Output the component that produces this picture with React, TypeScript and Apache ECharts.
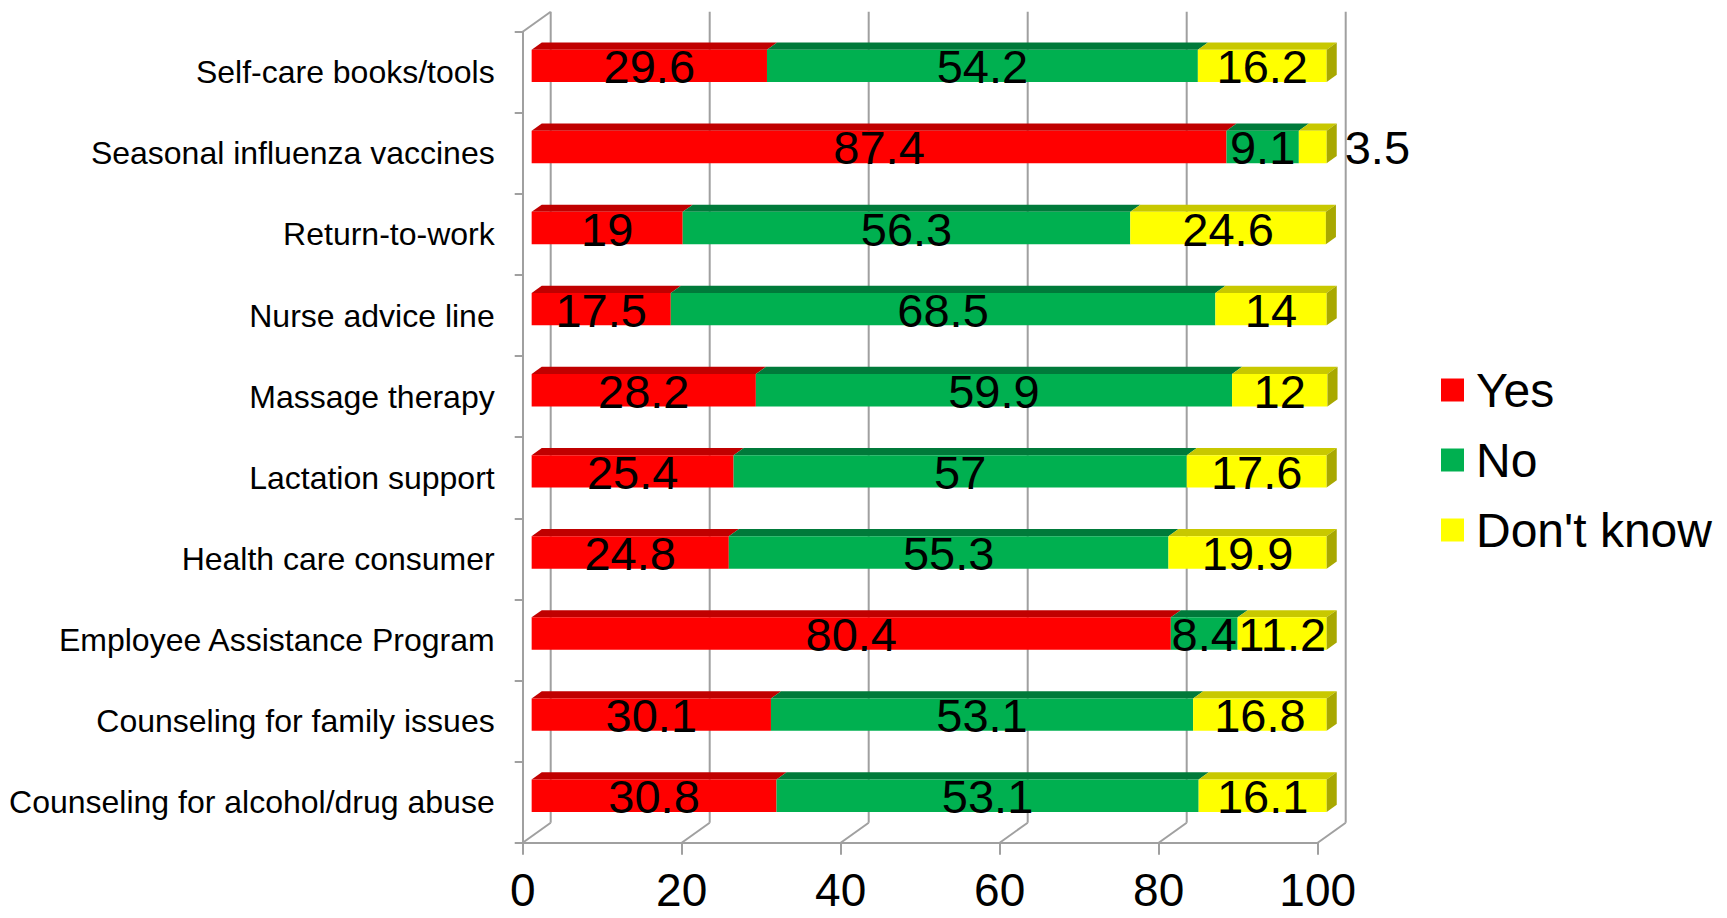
import React, { useEffect, useRef } from "react";
import * as echarts from "echarts";

// Survey results: share of respondents per benefit (%)
const CATEGORIES = [
  "Self-care books/tools",
  "Seasonal influenza vaccines",
  "Return-to-work",
  "Nurse advice line",
  "Massage therapy",
  "Lactation support",
  "Health care consumer",
  "Employee Assistance Program",
  "Counseling for family issues",
  "Counseling for alcohol/drug abuse",
];
const YES = [29.6, 87.4, 19, 17.5, 28.2, 25.4, 24.8, 80.4, 30.1, 30.8];
const NO = [54.2, 9.1, 56.3, 68.5, 59.9, 57, 55.3, 8.4, 53.1, 53.1];
const DONT_KNOW = [16.2, 3.5, 24.6, 14, 12, 17.6, 19.9, 11.2, 16.8, 16.1];
const X_TICKS = [0, 20, 40, 60, 80, 100];
const SERIES_NAMES = ["Yes", "No", "Don't know"];

const FONT = "'Liberation Sans', Arial, sans-serif";
const GRID_COLOR = "#A0A0A0";

// 3D look: depth of the plot box and the slab each bar occupies within it
const DEPTH_X = 28;
const DEPTH_Y = 20;
const BAR_FRONT = 0.32;
const BAR_BACK = 0.68;
const BAR_THICK = 0.4; // fraction of the category band
const SMALL_SEGMENT = 5; // segments narrower than this get their label outside

const PALETTE = [
  { front: "#FF0000", top: "#C00000", side: "#A00000" },
  { front: "#00B050", top: "#007A3A", side: "#006030" },
  { front: "#FFFF00", top: "#C8C800", side: "#A8A800" },
];

const SEGMENTS = [YES, NO, DONT_KNOW];

function buildSegmentData(idx: number) {
  return CATEGORIES.map((_, c) => {
    let start = 0;
    for (let k = 0; k < idx; k++) start += SEGMENTS[k][c];
    const v = SEGMENTS[idx][c];
    return [c, start, start + v, v];
  });
}

export default function App() {
  const ref = useRef<HTMLDivElement>(null);

  useEffect(() => {
    if (!ref.current) return;
    const chart = echarts.init(ref.current, null, { renderer: "svg" });

    const frameSeries = {
      type: "custom",
      name: "frame",
      silent: true,
      z: 1,
      data: X_TICKS.map((t) => [t]),
      encode: { x: 0 },
      renderItem: (params: any, api: any) => {
        const v = api.value(0);
        const cs = params.coordSys;
        const x = api.coord([v, 0])[0];
        const top = cs.y;
        const bottom = cs.y + cs.height;
        const style = { stroke: GRID_COLOR, lineWidth: 2 };
        const children: any[] = [
          {
            type: "line",
            shape: { x1: x + DEPTH_X, y1: top - DEPTH_Y, x2: x + DEPTH_X, y2: bottom - DEPTH_Y },
            style,
          },
          {
            type: "line",
            shape: { x1: x, y1: bottom, x2: x + DEPTH_X, y2: bottom - DEPTH_Y },
            style,
          },
        ];
        if (v === X_TICKS[0]) {
          children.push({
            type: "line",
            shape: { x1: x, y1: top, x2: x + DEPTH_X, y2: top - DEPTH_Y },
            style,
          });
        }
        return { type: "group", children };
      },
    };

    const barSeries = SEGMENTS.map((_, idx) => {
      const col = PALETTE[idx];
      const isLast = idx === SEGMENTS.length - 1;
      return {
        type: "custom",
        name: SERIES_NAMES[idx],
        z: 2 + idx,
        itemStyle: { color: col.front },
        data: buildSegmentData(idx),
        encode: { x: [1, 2], y: 0 },
        renderItem: (params: any, api: any) => {
          const cat = api.value(0);
          const s = api.value(1);
          const e = api.value(2);
          const val = api.value(3);
          const p0 = api.coord([s, cat]);
          const p1 = api.coord([e, cat]);
          const band = api.size([0, 1])[1];
          const h = band * BAR_THICK;
          const ox = DEPTH_X * BAR_FRONT;
          const oy = DEPTH_Y * BAR_FRONT;
          const dx = DEPTH_X * (BAR_BACK - BAR_FRONT);
          const dy = DEPTH_Y * (BAR_BACK - BAR_FRONT);
          const x0 = p0[0] + ox;
          const x1 = p1[0] + ox;
          const yc = p0[1] - oy;
          const yt = yc - h / 2;
          const yb = yc + h / 2;
          const children: any[] = [
            {
              type: "polygon",
              shape: { points: [[x0, yt], [x1, yt], [x1 + dx, yt - dy], [x0 + dx, yt - dy]] },
              style: { fill: col.top },
            },
            {
              type: "rect",
              shape: { x: x0, y: yt, width: x1 - x0, height: h },
              style: { fill: col.front },
            },
          ];
          if (isLast) {
            children.push({
              type: "polygon",
              shape: { points: [[x1, yt], [x1 + dx, yt - dy], [x1 + dx, yb - dy], [x1, yb]] },
              style: { fill: col.side },
            });
          }
          const outside = val < SMALL_SEGMENT;
          children.push({
            type: "text",
            z2: 10,
            style: {
              text: String(val),
              x: outside ? x1 + dx + 8 : (x0 + x1) / 2,
              y: yc + 1,
              align: outside ? "left" : "center",
              verticalAlign: "middle",
              fontSize: 47,
              fontFamily: FONT,
              fill: "#000",
            },
          });
          return { type: "group", children };
        },
      };
    });

    chart.setOption({
      animation: false,
      backgroundColor: "#fff",
      grid: { left: 522.7, top: 31.7, width: 795, height: 811 },
      legend: {
        orient: "vertical",
        left: 1436,
        top: 361,
        data: SERIES_NAMES,
        icon: "rect",
        itemWidth: 23,
        itemHeight: 23,
        itemGap: 22,
        textStyle: {
          fontSize: 48,
          lineHeight: 48,
          fontFamily: FONT,
          color: "#000",
          padding: [0, 0, 0, 7],
        },
      },
      xAxis: {
        type: "value",
        min: 0,
        max: 100,
        interval: 20,
        splitLine: { show: false },
        axisLine: { show: true, lineStyle: { color: GRID_COLOR, width: 2 } },
        axisTick: { show: true, length: 12, lineStyle: { color: GRID_COLOR, width: 2 } },
        axisLabel: { fontSize: 46, lineHeight: 46, fontFamily: FONT, color: "#000", margin: 24 },
      },
      yAxis: {
        type: "category",
        inverse: true,
        data: CATEGORIES,
        axisLine: { show: true, lineStyle: { color: GRID_COLOR, width: 2 } },
        axisTick: { show: true, length: 8, lineStyle: { color: GRID_COLOR, width: 2 } },
        axisLabel: { fontSize: 32, fontFamily: FONT, color: "#000", margin: 28 },
        splitLine: { show: false },
      },
      series: [frameSeries, ...barSeries],
    });

    return () => chart.dispose();
  }, []);

  return (
    <div
      ref={ref}
      style={{ position: "fixed", left: 0, top: 0, width: 1727, height: 918 }}
    />
  );
}
